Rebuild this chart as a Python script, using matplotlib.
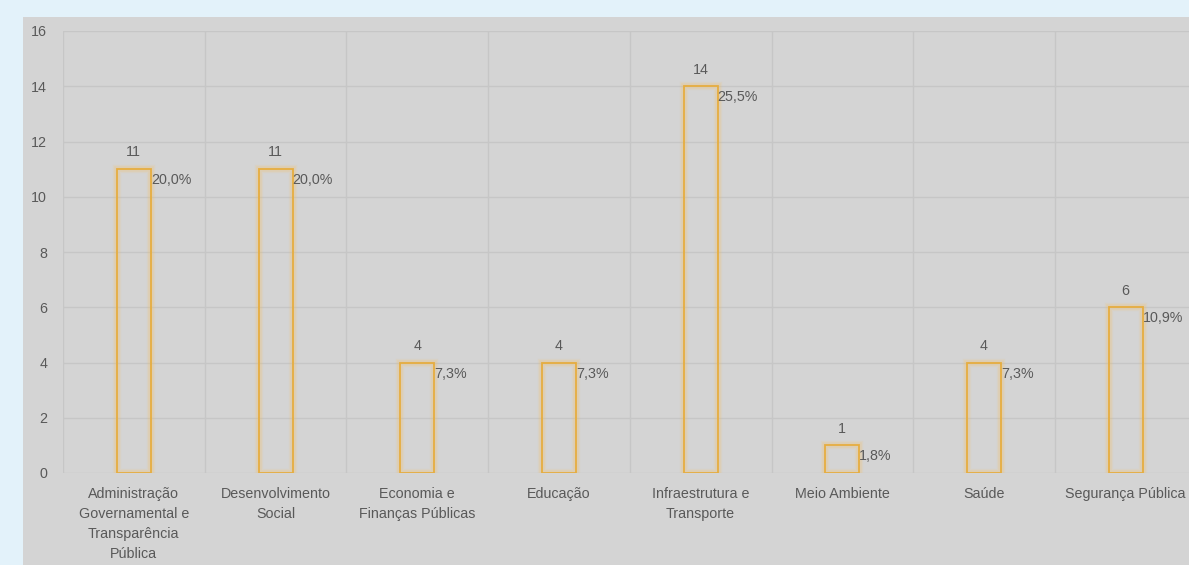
import matplotlib
matplotlib.use("Agg")
import matplotlib.pyplot as plt
from matplotlib.patches import Rectangle
import numpy as np

categories = ["Administração\nGovernamental e\nTransparência\nPública",
              "Desenvolvimento\nSocial",
              "Economia e\nFinanças Públicas",
              "Educação",
              "Infraestrutura e\nTransporte",
              "Meio Ambiente",
              "Saúde",
              "Segurança Pública"]
values = [11, 11, 4, 4, 14, 1, 4, 6]
yticks = [0, 2, 4, 6, 8, 10, 12, 14, 16]

total = sum(values)
pct_labels = [f"{v / total * 100:.1f}%".replace(".", ",") for v in values]

W, H = 1189, 565
fig = plt.figure(figsize=(W / 100, H / 100), dpi=100)
fig.patch.set_facecolor("#e3f2fa")
fig.patches.append(Rectangle((23 / W, 0), 1 - 23 / W, (H - 17) / H,
                             transform=fig.transFigure, facecolor="#d4d4d4",
                             edgecolor="none", zorder=-10))

plt.rcParams['font.family'] = ['Liberation Sans', 'DejaVu Sans']
txt = "#595959"
fs = 10.3

ax = fig.add_axes([63 / W, 92 / H, 8 * 141.7 / W, 442 / H])
ax.set_zorder(5)
ax.set_facecolor("none")
x = np.arange(len(values))
ax.set_xlim(-0.5, len(values) - 0.5)
ax.set_ylim(0, 16)
for s in ax.spines.values():
    s.set_visible(False)

ax.set_yticks(yticks)
ax.set_yticklabels([str(t) for t in yticks], color=txt, fontsize=fs)
ax.tick_params(axis="y", length=0, pad=11.5)
ax.set_xticks(x)
ax.set_xticklabels(categories, color=txt, fontsize=fs, linespacing=1.55)
ax.tick_params(axis="x", length=0, pad=10)
ax.set_xticks(np.arange(-0.5, len(values), 1), minor=True)
ax.tick_params(axis="x", which="minor", length=0)
ax.grid(axis="y", which="major", color="#c6c6c6", linewidth=1)
ax.grid(axis="x", which="minor", color="#c6c6c6", linewidth=1)
ax.set_axisbelow(True)

bw = 0.24
# glow
for lw, a in [(6, 0.12), (4, 0.18)]:
    ax.bar(x, values, width=bw, facecolor="none", edgecolor="#f5c060",
           linewidth=lw, alpha=a, zorder=2)
ax.bar(x, values, width=bw, facecolor="none", edgecolor="#e6ad40",
       linewidth=1.3, zorder=3)

for xi, v, p in zip(x, values, pct_labels):
    ax.annotate(str(v), (xi, v), xytext=(0, 7), textcoords="offset points",
                ha="center", va="bottom", color=txt, fontsize=fs)
    ax.annotate(p, (xi + bw / 2, v), xytext=(0, -8), textcoords="offset points",
                ha="left", va="center", color=txt, fontsize=fs)

fig.savefig("out.png", dpi=100, facecolor=fig.get_facecolor())
